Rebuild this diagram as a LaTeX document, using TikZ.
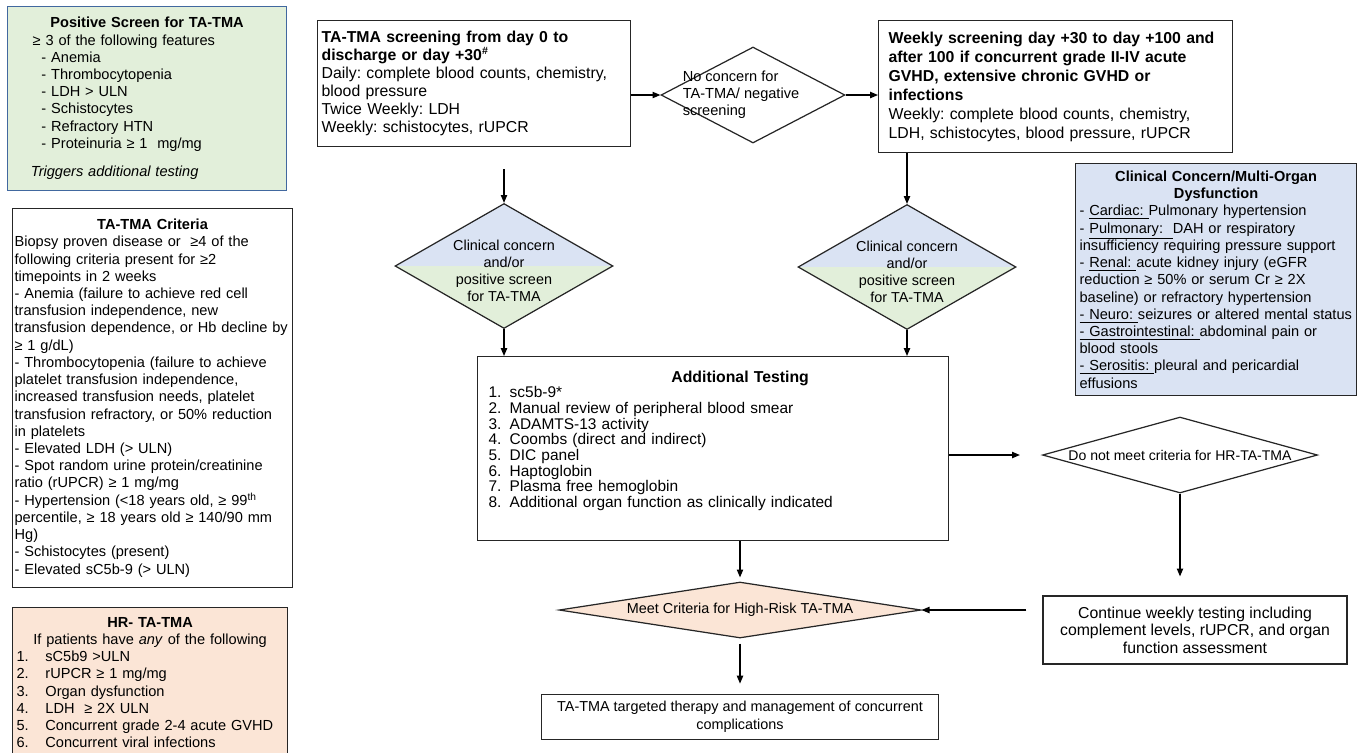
\documentclass[tikz,border=0pt]{standalone}
\usepackage{fontspec}
\setmainfont{Liberation Sans}
\usetikzlibrary{arrows.meta,positioning,shapes.geometric}
\frenchspacing

\definecolor{scrgreen}{HTML}{E2EFDA}
\definecolor{ccblue}{HTML}{DAE3F3}
\definecolor{hrpeach}{HTML}{FBE5D6}
\definecolor{scrblue}{HTML}{41689F}

\begin{document}
\begin{tikzpicture}[x=0.02cm,y=-0.02cm,
  every node/.style={font=\fontsize{8.3}{9.8}\selectfont},
  box/.style={draw=black!85,line width=0.7pt,anchor=north west,inner xsep=0.08cm,inner ysep=0pt,align=left},
  tbox/.style={draw=black!85,line width=0.7pt,align=center,inner sep=0pt},
  dia/.style={diamond,draw=black!85,line width=0.7pt,inner sep=0pt},
  split/.style={path picture={
      \fill[ccblue] (path picture bounding box.north west) rectangle (path picture bounding box.east);
      \fill[scrgreen] (path picture bounding box.west) rectangle (path picture bounding box.south east);}},
  arr/.style={-{Triangle[length=4.5pt,width=3.6pt]},line width=0.7pt}]
\useasboundingbox (0,0) rectangle (1358,752);

% left column
  \node[box,fill=scrgreen,draw=scrblue,minimum width=5.58cm,minimum height=3.68cm,text width=5.42cm] (pos) at (7,6)
    {{\centering\textbf{Positive Screen for TA-TMA}\par}
     \hspace*{12pt}≥ 3 of the following features\\
     \hspace*{17pt}- Anemia\\
     \hspace*{17pt}- Thrombocytopenia\\
     \hspace*{17pt}- LDH > ULN\\
     \hspace*{17pt}- Schistocytes\\
     \hspace*{17pt}- Refractory HTN\\
     \hspace*{17pt}- Proteinuria ≥ 1\ \ mg/mg\\[6.5pt]
     \hspace*{11pt}\textit{Triggers additional testing}};

  \node[box,inner xsep=0.04cm,minimum width=5.6cm,minimum height=7.58cm,text width=5.52cm] (crit) at (12,208)
    {{\centering\textbf{TA-TMA Criteria}\par}
     Biopsy proven disease or \ ≥4 of the\\
     following criteria present for ≥2\\
     timepoints in 2 weeks\\
     - Anemia (failure to achieve red cell\\
     transfusion independence, new\\
     transfusion dependence, or Hb decline by\\
     ≥ 1 g/dL)\\
     - Thrombocytopenia (failure to achieve\\
     platelet transfusion independence,\\
     increased transfusion needs, platelet\\
     transfusion refractory, or 50\% reduction\\
     in platelets\\
     - Elevated LDH (> ULN)\\
     - Spot random urine protein/creatinine\\
     ratio (rUPCR) ≥ 1 mg/mg\\
     - Hypertension (<18 years old, ≥ 99\textsuperscript{th}\\
     percentile, ≥ 18 years old ≥ 140/90 mm\\
     Hg)\\
     - Schistocytes (present)\\
     - Elevated sC5b-9 (> ULN)};

  \node[box,fill=hrpeach,minimum width=5.5cm,minimum height=3.0cm,text width=5.34cm] (hr) at (12,607)
    {{\centering\textbf{HR- TA-TMA}\\If patients have \textit{any} of the following\par}
     \makebox[16.4pt][l]{1.}sC5b9 >ULN\\
     \makebox[16.4pt][l]{2.}rUPCR ≥ 1 mg/mg\\
     \makebox[16.4pt][l]{3.}Organ dysfunction\\
     \makebox[16.4pt][l]{4.}LDH \ ≥ 2X ULN\\
     \makebox[16.4pt][l]{5.}Concurrent grade 2-4 acute GVHD\\
     \makebox[16.4pt][l]{6.}Concurrent viral infections};

% screening boxes
  \node[box,minimum width=6.26cm,minimum height=2.52cm,text width=6.1cm,font=\fontsize{9}{10.2}\selectfont] (scr1) at (317,20)
    {\textbf{TA-TMA screening from day 0 to}\\
     \textbf{discharge or day +30\textsuperscript{\#}}\\
     Daily: complete blood counts, chemistry,\\
     blood pressure\\
     Twice Weekly: LDH\\
     Weekly: schistocytes, rUPCR};

  \node[dia,minimum width=3.68cm,minimum height=1.92cm] (noc) at (753,95) {};
  \node[align=left,inner sep=0pt,anchor=west] (noct) at ([xshift=0.44cm]noc.west)
    {No concern for\\TA-TMA/ negative\\screening};

  \node[box,inner xsep=0.2cm,minimum width=7.08cm,minimum height=2.64cm,text width=6.68cm,font=\fontsize{9}{10.8}\selectfont] (scr2) at (878,20)
    {\textbf{Weekly screening day +30 to day +100 and}\\
     \textbf{after 100 if concurrent grade II-IV acute}\\
     \textbf{GVHD, extensive chronic GVHD or}\\
     \textbf{infections}\\
     Weekly: complete blood counts, chemistry,\\
     LDH, schistocytes, blood pressure, rUPCR};

  \node[box,fill=ccblue,minimum width=5.62cm,minimum height=4.64cm,text width=5.46cm] (ccb) at (1075,163)
    {{\centering\textbf{Clinical Concern/Multi-Organ}\\\textbf{Dysfunction}\par}
     - \underline{Cardiac:\ }Pulmonary hypertension\\
     - \underline{Pulmonary:\ \ }DAH or respiratory\\
     insufficiency requiring pressure support\\
     - \underline{Renal:\ }acute kidney injury (eGFR\\
     reduction ≥ 50\% or serum Cr ≥ 2X\\
     baseline) or refractory hypertension\\
     \underline{- Neuro:\ }seizures or altered mental status\\
     \underline{- Gastrointestinal:\ }abdominal pain or\\
     blood stools\\
     \underline{- Serositis:\ }pleural and pericardial\\
     effusions};

% decisions
  \node[dia,split,minimum width=4.36cm,minimum height=2.5cm] (cc1) at (504,266) {};
  \node[align=center,inner sep=0pt,font=\fontsize{8.2}{9.6}\selectfont] (cc1t) at ([yshift=-0.1cm]cc1)
    {Clinical concern\\and/or\\positive screen\\for TA-TMA};
  \node[dia,split,minimum width=4.36cm,minimum height=2.5cm] (cc2) at (907,267) {};
  \node[align=center,inner sep=0pt,font=\fontsize{8.2}{9.6}\selectfont] (cc2t) at ([yshift=-0.1cm]cc2)
    {Clinical concern\\and/or\\positive screen\\for TA-TMA};

  \node[box,minimum width=9.42cm,minimum height=3.68cm,text width=9.26cm,font=\fontsize{8.8}{8.9}\selectfont] (addt) at (477,356)
    {\hspace*{108pt}{\fontsize{9}{10}\selectfont\textbf{Additional Testing}}\\
     \hspace*{4pt}\makebox[12pt][l]{1.}sc5b-9*\\
     \hspace*{4pt}\makebox[12pt][l]{2.}Manual review of peripheral blood smear\\
     \hspace*{4pt}\makebox[12pt][l]{3.}ADAMTS-13 activity\\
     \hspace*{4pt}\makebox[12pt][l]{4.}Coombs (direct and indirect)\\
     \hspace*{4pt}\makebox[12pt][l]{5.}DIC panel\\
     \hspace*{4pt}\makebox[12pt][l]{6.}Haptoglobin\\
     \hspace*{4pt}\makebox[12pt][l]{7.}Plasma free hemoglobin\\
     \hspace*{4pt}\makebox[12pt][l]{8.}Additional organ function as clinically indicated\par\kern9pt\hrule height0pt};

  \node[dia,shape aspect=3.6,minimum width=5.5cm,minimum height=1.52cm,font=\fontsize{8}{9.6}\selectfont] (dnm) at (1180,455)
    {Do not meet criteria for HR-TA-TMA};
  \node[tbox,minimum width=6.08cm,minimum height=1.36cm,font=\fontsize{9}{9.9}\selectfont] (cont) at (1195,630)
    {Continue weekly testing including\\complement levels, rUPCR, and organ\\function assessment};

  \node[dia,fill=hrpeach,shape aspect=6.46,minimum width=7.24cm,minimum height=1.12cm,font=\fontsize{8.2}{9.6}\selectfont] (mhr) at (740,610)
    {Meet Criteria for High-Risk TA-TMA};
  \node[tbox,minimum width=7.94cm,minimum height=0.9cm,below=1.1cm of mhr,font=\fontsize{8.2}{10}\selectfont] (ther)
    {TA-TMA targeted therapy and management of concurrent\\complications};

% connectors
  \draw[arr] (scr1.east |- noc.west) -- (noc.west);
  \draw[arr] (noc.east) -- (noc.east -| scr2.west);
  \draw[arr,shorten <=0.44cm] (scr1.south -| cc1.north) -- (cc1.north);
  \draw[arr] (scr2.south -| cc2.north) -- (cc2.north);
  \draw[arr] (cc1.south) -- (cc1.south |- addt.north);
  \draw[arr] (cc2.south) -- (cc2.south |- addt.north);
  \draw[arr,shorten >=0.44cm] (addt.east |- dnm.west) -- (dnm.west);
  \draw[arr,shorten >=0.38cm] (dnm.south) -- (dnm.south |- cont.north);
  \draw[arr,shorten <=0.32cm] (cont.west |- mhr.east) -- (mhr.east);
  \draw[arr,shorten >=0.08cm] (mhr.north |- addt.south) -- (mhr.north);
  \draw[arr,shorten <=0.1cm,shorten >=0.2cm] (mhr.south) -- (ther.north);
\end{tikzpicture}
\end{document}
